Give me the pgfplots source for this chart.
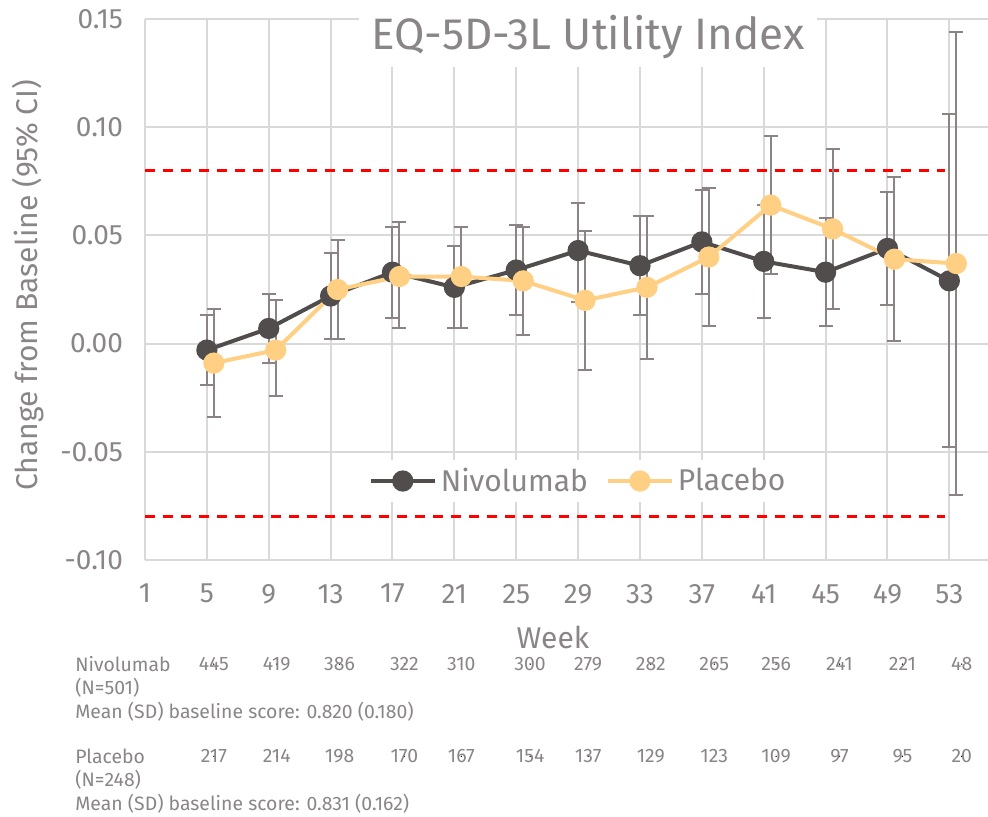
\documentclass[border=0pt]{standalone}
\usepackage{pgfplots}
\usepackage{pgfplotstable}
\pgfplotsset{compat=1.18}
\usepackage{fontspec}
\setmainfont{Fira Sans}

\definecolor{txtgray}{HTML}{8A8586}
\definecolor{gridgray}{HTML}{D9D9D9}
\definecolor{nivo}{HTML}{514D4D}
\definecolor{plac}{HTML}{FFCF84}
\definecolor{errgray}{HTML}{8C8484}

% week, mean change, lower and upper 95% CI
\pgfplotstableread{
x y lo hi
5 -0.003 -0.019 0.013
9 0.007 -0.009 0.023
13 0.022 0.002 0.042
17 0.033 0.012 0.054
21 0.026 0.007 0.045
25 0.034 0.013 0.055
29 0.043 0.019 0.065
33 0.036 0.013 0.059
37 0.047 0.023 0.071
41 0.038 0.012 0.064
45 0.033 0.008 0.058
49 0.044 0.018 0.070
53 0.029 -0.048 0.106
}\nivodata

\pgfplotstableread{
x y lo hi
5.45 -0.009 -0.034 0.016
9.45 -0.003 -0.024 0.020
13.45 0.025 0.002 0.048
17.45 0.031 0.007 0.056
21.45 0.031 0.007 0.054
25.45 0.029 0.004 0.054
29.45 0.020 -0.012 0.052
33.45 0.026 -0.007 0.059
37.45 0.040 0.008 0.072
41.45 0.064 0.032 0.096
45.45 0.053 0.016 0.090
49.45 0.039 0.001 0.077
53.45 0.037 -0.070 0.144
}\placdata

% patients at risk
\pgfplotstableread{
x n p
5.45 445 217
9.52 419 214
13.58 386 198
17.77 322 170
21.45 310 167
25.9 300 154
29.65 279 137
33.7 282 129
37.8 265 123
41.8 256 109
45.9 241 97
49.97 221 95
53.8 48 20
}\counts

\begin{document}
\begin{tikzpicture}
\path[use as bounding box] (-72.5pt,-128pt) rectangle (421.5pt,280pt);
\begin{axis}[
    at={(0,0)}, anchor=south west,
    scale only axis,
    width=421.5pt, height=270.5pt,
    xmin=1, xmax=55.5,
    ymin=-0.10, ymax=0.15,
    xtick={1,5,...,53},
    ytick={-0.10,-0.05,0,0.05,0.10,0.15},
    yticklabel style={/pgf/number format/fixed,
        /pgf/number format/fixed zerofill, /pgf/number format/precision=2},
    /pgf/number format/assume math mode=true,
    ticklabel style={font=\fontsize{14}{16}\selectfont, text=txtgray},
    xticklabel style={yshift=-8.5pt},
    yticklabel style={xshift=-7.5pt},
    major tick length=0pt,
    grid=major,
    major grid style={gridgray, line width=1pt},
    axis line style={draw=none},
    clip=false,
    xlabel={Week},
    xlabel style={at={(axis description cs:0.484,-0.144)}, anchor=center,
        font=\fontsize{15}{17}\selectfont, text=txtgray},
    ylabel={Change from Baseline (95\% CI)},
    ylabel style={at={(axis description cs:-0.139,0.508)}, anchor=center,
        font=\fontsize{15}{17}\selectfont, text=txtgray},
    legend style={at={(axis description cs:0.515,0.146)}, anchor=center,
        draw=none, fill=white, legend columns=2,
        font=\fontsize{15}{17}\selectfont, text=txtgray,
        /tikz/every even column/.append style={column sep=7pt}},
    legend image code/.code={\draw[mark repeat=2,mark phase=2]
        plot coordinates {(0pt,0pt) (16pt,0pt) (32pt,0pt)};},
]
% reference lines
\addplot[red, line width=1.5pt, dash pattern=on 5pt off 4pt, forget plot]
    coordinates {(1,0.08) (52.7,0.08)};
\addplot[red, line width=1.5pt, dash pattern=on 5pt off 4pt, forget plot]
    coordinates {(1,-0.08) (52.7,-0.08)};

% error bars
\addplot[errgray, line width=1pt, only marks, mark=none, forget plot,
    error bars/.cd, y dir=both, y explicit,
    error bar style={errgray, line width=1pt},
    error mark options={rotate=90, mark size=3.5pt, errgray, line width=1pt}]
    table[x=x, y=y, y error plus expr=\thisrow{hi}-\thisrow{y},
          y error minus expr=\thisrow{y}-\thisrow{lo}] {\nivodata};
\addplot[errgray, line width=1pt, only marks, mark=none, forget plot,
    error bars/.cd, y dir=both, y explicit,
    error bar style={errgray, line width=1pt},
    error mark options={rotate=90, mark size=3.5pt, errgray, line width=1pt}]
    table[x=x, y=y, y error plus expr=\thisrow{hi}-\thisrow{y},
          y error minus expr=\thisrow{y}-\thisrow{lo}] {\placdata};

% series
\addplot[nivo, line width=2pt, mark=*, mark size=4.3pt,
    mark options={fill=nivo, draw=nivo}] table[x=x, y=y] {\nivodata};
\addlegendentry{Nivolumab}
\addplot[plac, line width=2pt, mark=*, mark size=4.3pt,
    mark options={fill=plac, draw=plac}] table[x=x, y=y] {\placdata};
\addlegendentry{Placebo}

% counts under the axis
\addplot[only marks, mark=*, mark size=0.1pt,
    scatter/use mapped color={draw=white, fill=white},
    forget plot, nodes near coords, point meta=explicit symbolic,
    nodes near coords style={anchor=center, text=txtgray,
        font=\fontsize{9.7}{11}\selectfont}]
    table[x=x, y expr=-0.1481, meta=n] {\counts};
\addplot[only marks, mark=*, mark size=0.1pt,
    scatter/use mapped color={draw=white, fill=white},
    forget plot, nodes near coords, point meta=explicit symbolic,
    nodes near coords style={anchor=center, text=txtgray,
        font=\fontsize{9.7}{11}\selectfont}]
    table[x=x, y expr=-0.1907, meta=p] {\counts};

\node[fill=white, text=txtgray, font=\fontsize{22}{26}\selectfont,
    inner xsep=6pt, inner ysep=4pt]
    at (axis description cs:0.5255,0.967) {EQ-5D-3L Utility Index};
\end{axis}
\begin{scope}[every node/.style={anchor=base west, text=txtgray,
    font=\fontsize{9.7}{11}\selectfont, inner sep=0pt}]
\node at (-35pt,-55.5pt) {Nivolumab};
\node at (-35pt,-67pt) {(N=501)};
\node at (-35pt,-79pt) {Mean (SD) baseline score: 0.820 (0.180)};
\node at (-35pt,-101.5pt) {Placebo};
\node at (-35pt,-113pt) {(N=248)};
\node at (-35pt,-125pt) {Mean (SD) baseline score: 0.831 (0.162)};
\end{scope}
\end{tikzpicture}
\end{document}
